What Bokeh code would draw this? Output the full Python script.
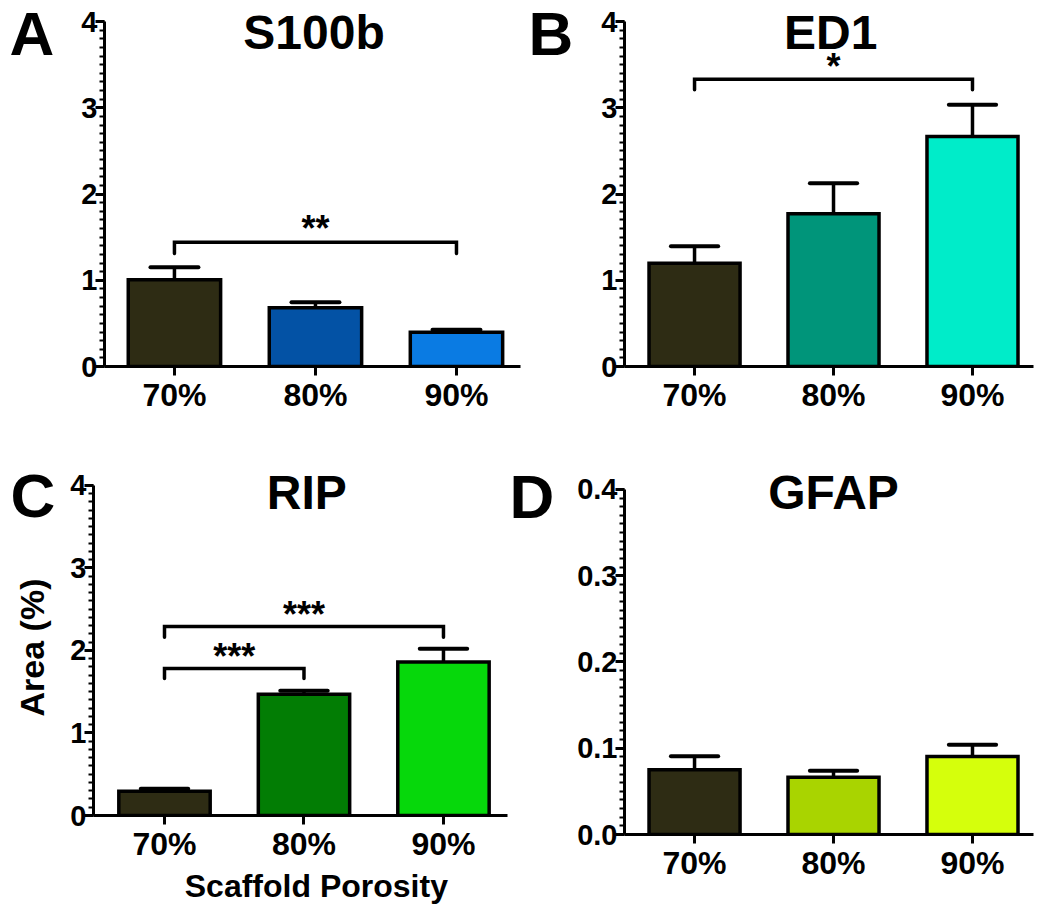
import math
from bokeh.plotting import figure
from bokeh.layouts import row, column
from bokeh.models import Range1d, FixedTicker, SingleIntervalTicker, Label, NumeralTickFormatter
from bokeh.core.properties import value
from bokeh.embed import file_html
from bokeh.resources import INLINE

FONT = "Liberation Sans"

# ---------------- data ----------------
categories = ["70%", "80%", "90%"]
cat_pos = [1, 2, 3]

s100b_mean = [1.005, 0.680, 0.398]
s100b_sem = [0.146, 0.066, 0.027]
ed1_mean = [1.198, 1.771, 2.667]
ed1_sem = [0.197, 0.354, 0.367]
rip_mean = [0.293, 1.470, 1.860]
rip_sem = [0.030, 0.040, 0.160]
gfap_mean = [0.0750, 0.0665, 0.0904]
gfap_sem = [0.0158, 0.0073, 0.0136]

s100b_colors = ["#2e2c14", "#0352a5", "#0a7be3"]
ed1_colors = ["#2e2c14", "#00957a", "#00ecc9"]
rip_colors = ["#2e2c14", "#027d04", "#06d80b"]
gfap_colors = ["#2e2c14", "#a9d400", "#d5ff0c"]

# significance brackets: (from, to, level, end level, star level, stars)
s100b_brackets = [(1, 3, 1.44, 1.31, 1.60, "**")]
ed1_brackets = [(1, 3, 3.33, 3.21, 3.48, "*")]
rip_brackets = [(1, 3, 2.29, 2.16, 2.44, "***"), (1, 2, 1.78, 1.66, 1.93, "***")]
gfap_brackets = []

panel_titles = ["S100b", "ED1", "RIP", "GFAP"]
panel_letters = ["A", "B", "C", "D"]
y_label = "Area (%)"
x_label = "Scaffold Porosity"

BAR_W = 0.655
CAP_HALF = 0.17
BLACK = "#000000"


def make_panel(width, height, xr, yr, ybounds, borders, interval, fmt, means, sems, colors, brackets):
    p = figure(width=width, height=height, x_range=Range1d(*xr), y_range=Range1d(*yr),
               output_backend="svg", toolbar_location=None, title=None)
    p.min_border_left, p.min_border_right, p.min_border_top, p.min_border_bottom = borders
    p.outline_line_color = None
    p.grid.visible = False
    p.background_fill_color = "white"
    p.border_fill_color = "white"

    xa = p.xaxis[0]
    xa.ticker = FixedTicker(ticks=cat_pos)
    xa.major_label_overrides = {c: t for c, t in zip(cat_pos, categories)}
    xa.axis_line_width = 3
    xa.major_tick_line_width = 3
    xa.major_tick_in = 0
    xa.major_tick_out = 9
    xa.minor_tick_line_color = None
    xa.major_label_text_font = FONT
    xa.major_label_text_font_style = "bold"
    xa.major_label_text_font_size = "32px"
    xa.major_label_text_color = BLACK
    xa.major_label_standoff = 1

    ya = p.yaxis[0]
    ya.ticker = SingleIntervalTicker(interval=interval, num_minor_ticks=10)
    ya.formatter = NumeralTickFormatter(format=fmt)
    ya.bounds = ybounds
    ya.axis_line_width = 3
    ya.major_tick_line_width = 3
    ya.major_tick_in = 0
    ya.major_tick_out = 9
    ya.minor_tick_line_width = 2
    ya.minor_tick_in = 0
    ya.minor_tick_out = 5
    ya.major_label_text_font = FONT
    ya.major_label_text_font_style = "bold"
    ya.major_label_text_font_size = "29px"
    ya.major_label_text_color = BLACK
    ya.major_label_standoff = -2

    tops = [m + s for m, s in zip(means, sems)]
    # error bars (upper only)
    p.segment(x0=cat_pos, y0=means, x1=cat_pos, y1=tops, line_color="black", line_width=3.5)
    p.segment(x0=[c - CAP_HALF for c in cat_pos], y0=tops, x1=[c + CAP_HALF for c in cat_pos], y1=tops,
              line_color="black", line_width=4, line_cap="round")
    # bars
    p.vbar(x=cat_pos, top=means, bottom=0, width=BAR_W, fill_color=colors,
           line_color="black", line_width=3.5, line_join="miter")
    # brackets
    for (a, b, lvl, end, star_lvl, stars) in brackets:
        p.line(x=[a, a, b, b], y=[end, lvl, lvl, end], line_color="black", line_width=3.5,
               line_cap="round", line_join="miter")
        p.text(x=[(a + b) / 2], y=[star_lvl], text=[stars], text_font=value(FONT), text_font_size="36px",
               text_font_style="bold", text_align="center", text_baseline="middle", text_color="black")
    return p


def strip(width, height):
    s = figure(width=width, height=height, x_range=Range1d(0, width), y_range=Range1d(height, 0),
               x_axis_location=None, y_axis_location=None, output_backend="svg",
               toolbar_location=None, title=None, min_border=0)
    s.min_border_left = s.min_border_right = s.min_border_top = s.min_border_bottom = 0
    s.outline_line_color = None
    s.grid.visible = False
    return s


def add_label(p, x, y, text, size, align="left", baseline="middle", angle=0.0):
    p.add_layout(Label(x=x, y=y, text=text, text_font=FONT, text_font_size=size,
                       text_font_style="bold", text_align=align, text_baseline=baseline,
                       angle=angle, text_color="black"))


# ---- row 1 ----
pA = make_panel(462, 460, (0.504, 3.454), (0, 4.2435), (0, 4), (40, 6, 0, 94), 1, "0",
                s100b_mean, s100b_sem, s100b_colors, s100b_brackets)
pB = make_panel(444, 460, (0.496, 3.439), (0, 4.2435), (0, 4), (34, 1, 0, 94), 1, "0",
                ed1_mean, ed1_sem, ed1_colors, ed1_brackets)
sA = strip(64, 460)
sB = strip(64, 460)

# ---- row 2 ----
pC = make_panel(444, 404, (0.491, 3.459), (0, 4.3003), (0, 4), (29, 1, 0, 46), 1, "0",
                rip_mean, rip_sem, rip_colors, rip_brackets)
pD = make_panel(460, 444, (0.496, 3.439), (0, 0.43362), (0, 0.4), (50, 1, 0, 70), 0.1, "0.0",
                gfap_mean, gfap_sem, gfap_colors, gfap_brackets)
sC = strip(64, 444)
sD = strip(66, 444)
sX = strip(444, 40)

# titles
add_label(pA, 1.99, 3.872, panel_titles[0], "48px", align="center")
add_label(pB, 1.98, 3.872, panel_titles[1], "48px", align="center")
add_label(pC, 2.02, 3.916, panel_titles[2], "48px", align="center")
add_label(pD, 2.0, 0.3965, panel_titles[3], "48px", align="center")

# panel letters
add_label(sA, 9, 41, panel_letters[0], "62px")
add_label(sB, 2, 41, panel_letters[1], "62px")
add_label(sC, 10, 41, panel_letters[2], "62px")
add_label(sD, 1, 43, panel_letters[3], "62px")

# axis titles
add_label(sC, 31, 222, y_label, "34px", align="center", angle=math.pi / 2)
add_label(sX, 239, 21, x_label, "32px", align="center")

layout = column(
    row(sA, pA, sB, pB),
    row(sC, column(pC, sX), sD, pD),
)
open("out.html", "w").write(file_html(layout, INLINE))
